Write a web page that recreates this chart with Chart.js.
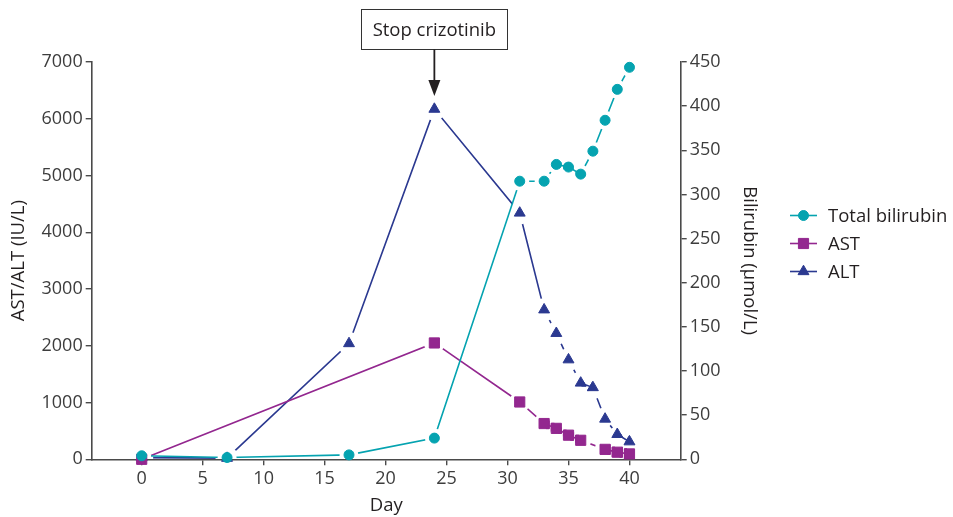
<!DOCTYPE html>
<html>
<head>
<meta charset="utf-8">
<script src="https://cdn.jsdelivr.net/npm/chart.js@4/dist/chart.umd.min.js"></script>
<style>
  html, body { margin: 0; padding: 0; background: #fff; }
  #wrap { width: 953px; height: 517px; position: relative; }
</style>
</head>
<body>
<div id="wrap"><canvas id="chart"></canvas></div>
<script>
// Day axis tick labels
const dayTicks = [0, 5, 10, 15, 20, 25, 30, 35, 40];
const enzymeTicks = [0, 1000, 2000, 3000, 4000, 5000, 6000, 7000];
const bilirubinTicks = [0, 50, 100, 150, 200, 250, 300, 350, 400, 450];

// Total bilirubin (µmol/L), right axis
const bilirubinDays   = [0, 7, 17, 24, 31, 33, 34, 35, 36, 37, 38, 39, 40];
const bilirubinValues = [4, 2, 5, 24, 315, 315, 334, 331, 323, 349, 384, 419, 444];

// AST (IU/L), left axis
const astDays   = [0, 24, 31, 33, 34, 35, 36, 38, 39, 40];
const astValues = [0, 2050, 1010, 630, 545, 425, 335, 175, 125, 95];

// ALT (IU/L), left axis
const altDays   = [0, 7, 17, 24, 31, 33, 34, 35, 36, 37, 38, 39, 40];
const altValues = [30, 20, 2040, 6170, 4340, 2635, 2220, 1755, 1345, 1265, 710, 440, 310];

const stopDay = 24;
const stopLabel = 'Stop crizotinib';

const FONT = '"Open Sans", "DejaVu Sans", sans-serif';
const AXIS_COLOR = '#4a4a4a';
const TEXT_COLOR = '#231f20';

const CYAN = '#05a3b0';
const PURPLE = '#93278f';
const NAVY = '#2b3990';

const toPoints = (xs, ys) => xs.map((x, i) => ({ x, y: ys[i] }));

// Lines stop short of their own markers: clip a ring around each point
// while the line is drawn, then paint the markers on top.
const markerGaps = {
  id: 'markerGaps',
  beforeDatasetDraw(chart, args) {
    const ctx = chart.ctx;
    const r = chart.data.datasets[args.index].gapRadius || 10;
    ctx.save();
    ctx.beginPath();
    ctx.rect(0, 0, chart.width, chart.height);
    args.meta.data.forEach(p => {
      ctx.moveTo(p.x + r, p.y);
      ctx.arc(p.x, p.y, r, 0, Math.PI * 2);
    });
    ctx.clip('evenodd');
  },
  afterDatasetDraw(chart, args) {
    chart.ctx.restore();
    args.meta.data.forEach(p => p.draw(chart.ctx, chart.chartArea));
  }
};

function drawMarker(ctx, style, x, y, r, color) {
  ctx.save();
  ctx.fillStyle = color;
  ctx.strokeStyle = color;
  ctx.lineWidth = 1;
  ctx.beginPath();
  if (style === 'circle') {
    ctx.arc(x, y, r, 0, Math.PI * 2);
  } else if (style === 'rect') {
    const s = Math.SQRT1_2 * r;
    ctx.rect(x - s, y - s, 2 * s, 2 * s);
  } else if (style === 'triangle') {
    for (let k = 0; k < 3; k++) {
      const a = k * 2 * Math.PI / 3;
      const px = x + Math.sin(a) * r, py = y - Math.cos(a) * r;
      if (k === 0) ctx.moveTo(px, py); else ctx.lineTo(px, py);
    }
    ctx.closePath();
  }
  ctx.fill();
  ctx.stroke();
  ctx.restore();
}

// Legend with a line sample and the marker in its middle
const lineLegend = {
  id: 'lineLegend',
  afterDraw(chart) {
    const ctx = chart.ctx;
    const x0 = 790, x1 = 817, tx = 828;
    const rows = [215.5, 243.5, 271.5];
    chart.data.datasets.forEach((ds, i) => {
      const y = rows[i];
      ctx.save();
      ctx.strokeStyle = ds.borderColor;
      ctx.lineWidth = 1.6;
      ctx.beginPath();
      ctx.moveTo(x0, y);
      ctx.lineTo(x1, y);
      ctx.stroke();
      ctx.restore();
      drawMarker(ctx, ds.pointStyle, (x0 + x1) / 2, y, ds.pointRadius, ds.backgroundColor);
      ctx.save();
      ctx.fillStyle = TEXT_COLOR;
      ctx.font = '18.5px ' + FONT;
      ctx.textBaseline = 'middle';
      ctx.textAlign = 'left';
      ctx.fillText(ds.label, tx, y + 1);
      ctx.restore();
    });
  }
};

// Boxed note with an arrow pointing down at the stop day
const stopNote = {
  id: 'stopNote',
  afterDraw(chart) {
    const ctx = chart.ctx;
    const x = chart.scales.x.getPixelForValue(stopDay);
    ctx.save();
    ctx.font = '18.5px ' + FONT;
    const w = 146, top = 9.5, bottom = 49.5;
    ctx.strokeStyle = '#333';
    ctx.lineWidth = 1;
    ctx.strokeRect(Math.round(x - w / 2) + 0.5, top, w, bottom - top);
    ctx.fillStyle = TEXT_COLOR;
    ctx.textAlign = 'center';
    ctx.textBaseline = 'middle';
    ctx.fillText(stopLabel, x, (top + bottom) / 2 + 1);
    ctx.strokeStyle = '#231f20';
    ctx.lineWidth = 1.8;
    ctx.beginPath();
    ctx.moveTo(x, bottom);
    ctx.lineTo(x, 82);
    ctx.stroke();
    ctx.fillStyle = '#231f20';
    ctx.beginPath();
    ctx.moveTo(x - 6, 80);
    ctx.lineTo(x + 6, 80);
    ctx.lineTo(x, 96);
    ctx.closePath();
    ctx.fill();
    ctx.restore();
  }
};

const tickFont = { family: FONT, size: 18 };
const titleFont = { family: FONT, size: 18.5 };

new Chart(document.getElementById('chart'), {
  type: 'line',
  data: {
    datasets: [
      {
        label: 'Total bilirubin',
        data: toPoints(bilirubinDays, bilirubinValues),
        yAxisID: 'y1',
        borderColor: CYAN, backgroundColor: CYAN,
        pointStyle: 'circle', pointRadius: 5, pointBorderWidth: 1,
        borderWidth: 1.6, gapRadius: 9.5
      },
      {
        label: 'AST',
        data: toPoints(astDays, astValues),
        yAxisID: 'y',
        borderColor: PURPLE, backgroundColor: PURPLE,
        pointStyle: 'rect', pointRadius: 7.2, pointBorderWidth: 1,
        borderWidth: 1.6, gapRadius: 10.5
      },
      {
        label: 'ALT',
        data: toPoints(altDays, altValues),
        yAxisID: 'y',
        borderColor: NAVY, backgroundColor: NAVY,
        pointStyle: 'triangle', pointRadius: 6.3, pointBorderWidth: 1,
        borderWidth: 1.6, gapRadius: 11.5
      }
    ]
  },
  options: {
    responsive: true,
    maintainAspectRatio: false,
    animation: false,
    events: [],
    layout: { padding: { left: 4, right: 188.2, top: 62, bottom: 0 } },
    elements: { line: { tension: 0 } },
    datasets: { line: { clip: false } },
    plugins: {
      legend: { display: false },
      tooltip: { enabled: false }
    },
    scales: {
      x: {
        type: 'linear',
        min: -4.1,
        max: 44.2,
        afterBuildTicks(scale) { scale.ticks = dayTicks.map(v => ({ value: v })); },
        afterFit(scale) { scale.height = 57.7; },
        border: { color: AXIS_COLOR, width: 1.6 },
        grid: { drawOnChartArea: false, drawTicks: true, tickLength: 6, color: AXIS_COLOR, lineWidth: 1.4 },
        ticks: { font: tickFont, color: '#3d3d3d', padding: 3, maxRotation: 0, autoSkip: false, callback: v => String(v) },
        title: { display: true, text: 'Day', font: titleFont, color: TEXT_COLOR, padding: { top: 4, bottom: 0 } }
      },
      y: {
        type: 'linear',
        position: 'left',
        min: 0,
        max: 7000,
        afterBuildTicks(scale) { scale.ticks = enzymeTicks.map(v => ({ value: v })); },
        afterFit(scale) { scale.width = 87.7; },
        border: { color: AXIS_COLOR, width: 1.6 },
        grid: { drawOnChartArea: false, drawTicks: true, tickLength: 6, color: AXIS_COLOR, lineWidth: 1.4 },
        ticks: { font: tickFont, color: '#3d3d3d', padding: 3, autoSkip: false, callback: v => String(v) },
        title: { display: true, text: 'AST/ALT (IU/L)', font: titleFont, color: TEXT_COLOR, padding: { top: 4, bottom: 4 } }
      },
      y1: {
        type: 'linear',
        position: 'right',
        min: 0,
        max: 450,
        afterBuildTicks(scale) { scale.ticks = bilirubinTicks.map(v => ({ value: v })); },
        afterFit(scale) { scale.width = 84.1; },
        border: { color: AXIS_COLOR, width: 1.6 },
        grid: { drawOnChartArea: false, drawTicks: true, tickLength: 6, color: AXIS_COLOR, lineWidth: 1.4 },
        ticks: { font: tickFont, color: '#3d3d3d', padding: 3, autoSkip: false, callback: v => String(v) },
        title: { display: true, text: 'Bilirubin (µmol/L)', font: titleFont, color: TEXT_COLOR, padding: { top: 4, bottom: 4 } }
      }
    }
  },
  plugins: [markerGaps, lineLegend, stopNote]
});
</script>
</body>
</html>
